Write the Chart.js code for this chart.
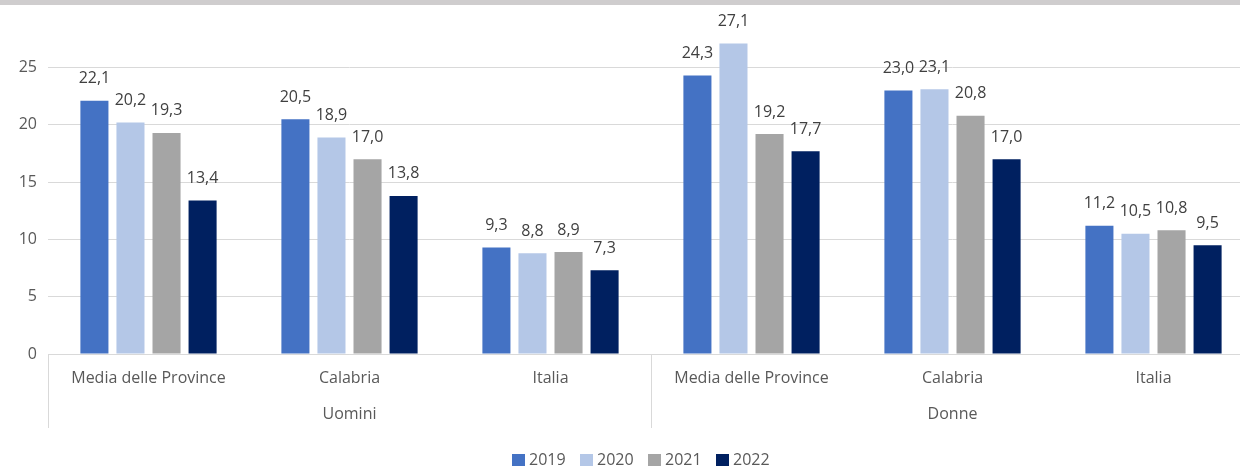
<!DOCTYPE html>
<html>
<head>
<meta charset="utf-8">
<script src="https://cdn.jsdelivr.net/npm/chart.js@4.4.1/dist/chart.umd.min.js"></script>
<style>
  html, body { margin: 0; padding: 0; background: #fff; overflow: hidden; }
  #wrap { position: relative; width: 1254px; height: 466px; }
  #topband { position: absolute; left: 0; top: 0; width: 1240px; height: 5px; background: #cfcdce; }
</style>
</head>
<body>
<div id="wrap">
  <canvas id="chart"></canvas>
  <div id="topband"></div>
</div>
<script>
const categories = ["Media delle Province", "Calabria", "Italia", "Media delle Province", "Calabria", "Italia"];
const groups = ["Uomini", "Donne"];
const years = ["2019", "2020", "2021", "2022"];
const v2019 = [22.1, 20.5, 9.3, 24.3, 23.0, 11.2];
const v2020 = [20.2, 18.9, 8.8, 27.1, 23.1, 10.5];
const v2021 = [19.3, 17.0, 8.9, 19.2, 20.8, 10.8];
const v2022 = [13.4, 13.8, 7.3, 17.7, 17.0, 9.5];
const yTicks = [0, 5, 10, 15, 20, 25];

const colors = ["#4472c4", "#b4c7e7", "#a5a5a5", "#002060"];
const FONT = "'Open Sans', 'Noto Sans', sans-serif";
const FS = 16;
const axisGrey = "#d9d9d9";
const textGrey = "#595959";

function fmt(v) {
  return v.toFixed(1).replace(".", ",");
}

// value labels above each bar
const valueLabels = {
  id: "valueLabels",
  afterDatasetsDraw(chart) {
    const ctx = chart.ctx;
    ctx.save();
    ctx.font = FS + "px " + FONT;
    ctx.fillStyle = "#404040";
    ctx.textAlign = "center";
    ctx.textBaseline = "middle";
    chart.data.datasets.forEach((ds, i) => {
      chart.getDatasetMeta(i).data.forEach((bar, j) => {
        ctx.fillText(fmt(ds.data[j]), bar.x, bar.y - 22);
      });
    });
    ctx.restore();
  }
};

// second level of the category axis: group names and separators
const groupAxis = {
  id: "groupAxis",
  afterDraw(chart) {
    const x = chart.scales.x;
    const ctx = chart.ctx;
    const bottom = chart.chartArea.bottom;
    const step = (x.right - x.left) / categories.length;
    const per = categories.length / groups.length;
    ctx.save();
    ctx.strokeStyle = axisGrey;
    ctx.lineWidth = 1;
    for (let g = 0; g <= groups.length; g++) {
      const px = Math.round(x.left + g * per * step) + 0.5;
      ctx.beginPath();
      ctx.moveTo(px, bottom);
      ctx.lineTo(px, bottom + 74);
      ctx.stroke();
    }
    ctx.font = FS + "px " + FONT;
    ctx.fillStyle = textGrey;
    ctx.textAlign = "center";
    ctx.textBaseline = "middle";
    groups.forEach((name, g) => {
      const cx = x.left + (g + 0.5) * per * step;
      ctx.fillText(name, cx, bottom + 60);
    });
    ctx.restore();
  }
};

// legend row under the axis
const yearLegend = {
  id: "yearLegend",
  afterDraw(chart) {
    const ctx = chart.ctx;
    const cy = 460;
    const itemW = 68;
    let x0 = 641 - (years.length * itemW - 14) / 2;
    ctx.save();
    ctx.font = FS + "px " + FONT;
    ctx.textAlign = "left";
    ctx.textBaseline = "middle";
    chart.data.datasets.forEach((ds, i) => {
      const bx = x0 + i * itemW;
      ctx.fillStyle = ds.backgroundColor;
      ctx.fillRect(bx, cy - 6, 13, 13);
      ctx.fillStyle = textGrey;
      ctx.fillText(ds.label, bx + 17, cy);
    });
    ctx.restore();
  }
};

const seriesValues = [v2019, v2020, v2021, v2022];

new Chart(document.getElementById("chart"), {
  type: "bar",
  data: {
    labels: categories,
    datasets: years.map((y, i) => ({
      label: y,
      data: seriesValues[i],
      backgroundColor: colors[i],
      categoryPercentage: 0.7175,
      barPercentage: 0.778
    }))
  },
  options: {
    responsive: true,
    maintainAspectRatio: false,
    animation: false,
    layout: { padding: { top: 10, left: 0, right: 0, bottom: 24 } },
    plugins: {
      legend: { display: false },
      tooltip: { enabled: false }
    },
    scales: {
      x: {
        grid: { display: false },
        border: { display: true, color: axisGrey },
        ticks: {
          color: textGrey,
          font: { family: FONT, size: FS },
          padding: 7,
          maxRotation: 0,
          autoSkip: false
        },
        afterFit(scale) { scale.height = 88; }
      },
      y: {
        min: 0,
        max: 29.1,
        afterBuildTicks(scale) { scale.ticks = yTicks.map(v => ({ value: v })); },
        grid: { color: axisGrey, drawTicks: false },
        border: { display: false },
        ticks: {
          color: textGrey,
          font: { family: FONT, size: FS },
          padding: 11
        },
        afterFit(scale) { scale.width = 48; }
      }
    }
  },
  plugins: [valueLabels, groupAxis, yearLegend]
});
</script>
</body>
</html>
